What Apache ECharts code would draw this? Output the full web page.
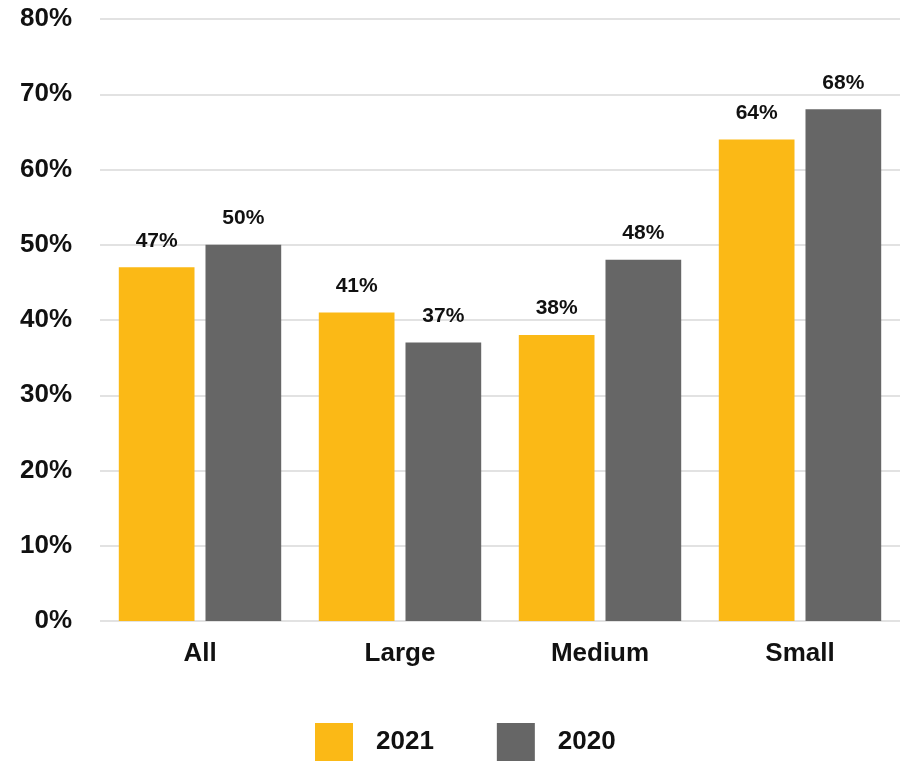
<!DOCTYPE html>
<html>
<head>
<meta charset="utf-8">
<script src="https://cdn.jsdelivr.net/npm/echarts@6/dist/echarts.min.js"></script>
<style>
  html, body { margin: 0; padding: 0; background: #ffffff; }
  #chart { width: 900px; height: 761px; }
</style>
</head>
<body>
<div id="chart"></div>
<script>
// Share of respondents by company size, two survey years
const categories = ['All', 'Large', 'Medium', 'Small'];
const seriesNames = ['2021', '2020'];
const values2021 = [47, 41, 38, 64];
const values2020 = [50, 37, 48, 68];
const yTicks = [0, 10, 20, 30, 40, 50, 60, 70, 80];

const FONT = '"Liberation Sans", Arial, Helvetica, sans-serif';
const COLORS = ['#FBB916', '#666666'];

const chart = echarts.init(document.getElementById('chart'), null, { renderer: 'canvas' });

function barSeries(name, data, color) {
  return {
    name: name,
    type: 'bar',
    data: data,
    barGap: '14.5%',
    barCategoryGap: '18.8%',
    itemStyle: { color: color },
    label: {
      show: true,
      position: 'top',
      distance: 16,
      formatter: '{c}%',
      fontFamily: FONT,
      fontWeight: 'bold',
      fontSize: 21,
      color: '#111111'
    }
  };
}

chart.setOption({
  backgroundColor: '#ffffff',
  animation: false,
  grid: { left: 100, width: 803, top: 19, bottom: 140, containLabel: false },
  legend: {
    data: seriesNames,
    left: 310,
    top: 718,
    icon: 'rect',
    itemWidth: 38,
    itemHeight: 38,
    itemGap: 63,
    textStyle: {
      fontFamily: FONT,
      fontWeight: 'bold',
      fontSize: 26,
      color: '#111111',
      padding: [0, 0, 0, 18]
    }
  },
  xAxis: {
    type: 'category',
    data: categories,
    axisLine: { show: false },
    axisTick: { show: false },
    axisLabel: {
      margin: 20,
      fontFamily: FONT,
      fontWeight: 'bold',
      fontSize: 26,
      color: '#111111'
    }
  },
  yAxis: {
    type: 'value',
    min: yTicks[0],
    max: yTicks[yTicks.length - 1],
    interval: yTicks[1] - yTicks[0],
    axisLine: { show: false },
    axisTick: { show: false },
    splitLine: { lineStyle: { color: '#d9d9d9', width: 1.5 } },
    axisLabel: {
      margin: 28,
      padding: [4, 0, 0, 0],
      formatter: '{value}%',
      fontFamily: FONT,
      fontWeight: 'bold',
      fontSize: 26,
      color: '#111111'
    }
  },
  series: [
    barSeries(seriesNames[0], values2021, COLORS[0]),
    barSeries(seriesNames[1], values2020, COLORS[1])
  ]
});
</script>
</body>
</html>
